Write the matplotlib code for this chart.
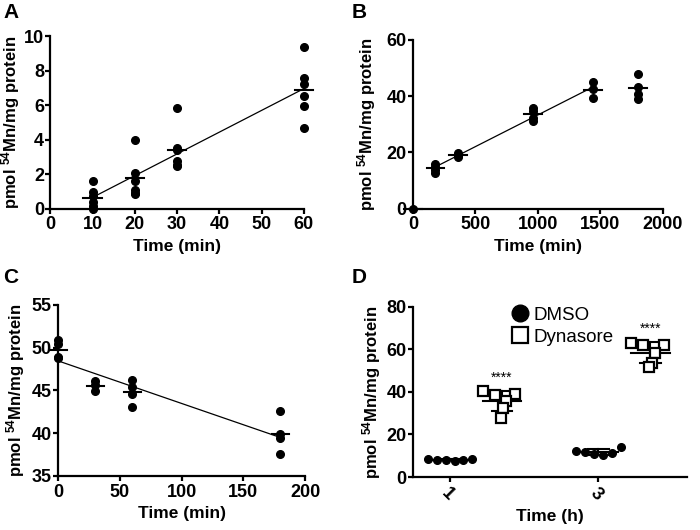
import numpy as np
import matplotlib
matplotlib.use('Agg')
import matplotlib.pyplot as plt
from matplotlib.lines import Line2D

plt.rcParams.update({
    'font.family': ['Liberation Sans', 'DejaVu Sans'],
    'font.weight': 'bold',
    'font.size': 12,
    'mathtext.fontset': 'custom',
    'mathtext.rm': 'Liberation Sans:bold',
    'mathtext.bf': 'Liberation Sans:bold',
    'mathtext.default': 'bf',
    'axes.linewidth': 1.6,
    'xtick.major.width': 1.6,
    'ytick.major.width': 1.6,
    'xtick.major.size': 3.5,
    'ytick.major.size': 3.5,
    'xtick.major.pad': 2,
    'ytick.major.pad': 1,
})

YLABEL = r'pmol $^{54}$Mn/mg protein'

# ---- panel A: uptake over 60 min
a_time = [10, 20, 30, 60]
a_vals = [
    [1.6, 1.0, 0.75, 0.4, 0.15, 0.0],
    [4.0, 2.1, 1.6, 1.1, 0.9, 0.85],
    [5.85, 3.5, 3.4, 2.75, 2.55, 2.45],
    [9.35, 7.55, 7.25, 6.55, 5.95, 4.7],
]

# ---- panel B: uptake over 1800 min (fit excludes 0 and 1800)
b_time = [0, 180, 360, 960, 1440, 1800]
b_vals = [
    [0.0],
    [15.8, 15.0, 13.8, 12.8],
    [19.8, 19.2, 18.4],
    [35.8, 34.8, 32.2, 31.3],
    [44.9, 42.5, 39.5],
    [47.9, 43.3, 40.8, 39.0],
]
b_fit_time = [180, 360, 960, 1440]

# ---- panel C: efflux
c_time = [0, 30, 60, 180]
c_vals = [
    [50.9, 50.4, 48.8, 48.9],
    [46.1, 45.6, 44.9],
    [46.2, 45.4, 44.6, 43.1],
    [42.6, 39.9, 39.4, 37.6],
]

# ---- panel D: DMSO vs Dynasore
d_labels = ['1', '3']
d_dmso = [
    [8.4, 8.1, 7.9, 7.7, 8.0, 8.6],
    [12.3, 11.6, 10.8, 10.5, 11.3, 14.2],
]
d_dyna = [
    [40.4, 38.6, 38.8, 35.8, 32.5, 27.6],
    [63.2, 62.0, 62.3, 58.2, 53.8, 51.5],
]
d_stars = ['****', '****']

# horizontal spread of the dots in D (category units)
dmso_spread = np.linspace(-0.15, 0.15, 6)
dyna_spread = np.array([-0.13, -0.05, 0.09, 0.03, 0.01, -0.01])

FIG_W = 700


def scatter_mean(ax, times, vals, mean_w):
    for t, v in zip(times, vals):
        ax.plot([t] * len(v), v, 'o', color='black', ms=5.5, clip_on=False, zorder=3)
        m = np.mean(v)
        ax.plot([t - mean_w, t + mean_w], [m, m], color='black', lw=1.5,
                clip_on=False, zorder=4)


def fit_line(ax, times, vals, use_times=None):
    xs, ys = [], []
    for t, v in zip(times, vals):
        if use_times is None or t in use_times:
            xs += [t] * len(v)
            ys += list(v)
    k, b = np.polyfit(xs, ys, 1)
    x0, x1 = min(xs), max(xs)
    ax.plot([x0, x1], [k * x0 + b, k * x1 + b], color='black', lw=0.9, zorder=2)


def style(ax, label_off_px):
    ax.spines['top'].set_visible(False)
    ax.spines['right'].set_visible(False)
    ax.set_ylabel(YLABEL, fontweight='bold', fontsize=12)
    w_px = ax.get_position().width * FIG_W
    ax.yaxis.set_label_coords(label_off_px / w_px, 0.5)
    ax.tick_params(labelsize=13)
    for lab in ax.get_xticklabels() + ax.get_yticklabels():
        lab.set_fontweight('bold')


fig = plt.figure(figsize=(7, 5.3), dpi=100)

axA = fig.add_axes([0.072, 0.606, 0.362, 0.326])
scatter_mean(axA, a_time, a_vals, 2.2)
fit_line(axA, a_time, a_vals)
axA.set_xlim(0, 60)
axA.set_ylim(0, 10)
axA.set_xticks(range(0, 61, 10))
axA.set_yticks(range(0, 11, 2))
axA.set_xlabel('Time (min)', fontweight='bold', fontsize=12.5)
style(axA, -28)

axB = fig.add_axes([0.59, 0.606, 0.357, 0.319])
scatter_mean(axB, b_time, b_vals, 70)
fit_line(axB, b_time, b_vals, b_fit_time)
axB.set_xlim(0, 2000)
axB.set_ylim(0, 60)
axB.set_xticks(range(0, 2001, 500))
axB.set_yticks(range(0, 61, 20))
axB.set_xlabel('Time (min)', fontweight='bold', fontsize=12.5)
style(axB, -35)

axC = fig.add_axes([0.083, 0.102, 0.353, 0.323])
scatter_mean(axC, c_time, c_vals, 7)
fit_line(axC, c_time, c_vals)
axC.set_xlim(0, 200)
axC.set_ylim(35, 55)
axC.set_xticks(range(0, 201, 50))
axC.set_yticks(range(35, 56, 5))
axC.set_xlabel('Time (min)', fontweight='bold', fontsize=12.5)
style(axC, -31)

axD = fig.add_axes([0.59, 0.10, 0.392, 0.321])
cat = np.arange(len(d_labels))
gap = 0.35
for i in cat:
    for grp, vals, spread, mk in [(0, d_dmso[i], dmso_spread, 'o'),
                                  (1, d_dyna[i], dyna_spread, 's')]:
        xc = i + grp * gap
        v = np.array(vals)
        m, sd = v.mean(), v.std(ddof=1)
        axD.plot([xc - 0.13, xc + 0.13], [m, m], color='black', lw=1.5, zorder=2)
        axD.plot([xc, xc], [m - sd, m + sd], color='black', lw=1.5, zorder=2)
        for e in (m - sd, m + sd):
            axD.plot([xc - 0.07, xc + 0.07], [e, e], color='black', lw=1.5, zorder=2)
        if mk == 'o':
            axD.plot(xc + spread, v, 'o', color='black', ms=5.5, zorder=3)
        else:
            axD.plot(xc + spread, v, 's', mfc='white', mec='black', mew=1.6,
                     ms=6.8, zorder=3)
    top = max(d_dyna[i]) + 3
    axD.text(i + gap, top, d_stars[i], ha='center', va='bottom', fontsize=10,
             fontweight='normal')
axD.set_xlim(-0.25, 1.6)
axD.set_ylim(0, 80)
axD.set_yticks(range(0, 81, 20))
axD.set_xticks(cat)
axD.set_xticklabels(d_labels, rotation=-45, ha='left', rotation_mode='anchor')
axD.set_xlabel('Time (h)', fontweight='bold', fontsize=12.5)
style(axD, -30)
handles = [Line2D([], [], marker='o', ls='', color='black', ms=12),
           Line2D([], [], marker='s', ls='', mfc='white', mec='black', mew=1.6, ms=12)]
axD.legend(handles, ['DMSO', 'Dynasore'], loc='upper left',
           bbox_to_anchor=(0.28, 1.1), frameon=False, handletextpad=0.05,
           handlelength=1.4, labelspacing=0.25,
           prop={'weight': 'normal', 'size': 13.5})

for lab, x, y in [('A', 0.005, 0.995), ('B', 0.503, 0.995),
                  ('C', 0.005, 0.495), ('D', 0.503, 0.495)]:
    fig.text(x, y, lab, fontsize=15, fontweight='bold', va='top')

fig.savefig('out.png', dpi=100)
